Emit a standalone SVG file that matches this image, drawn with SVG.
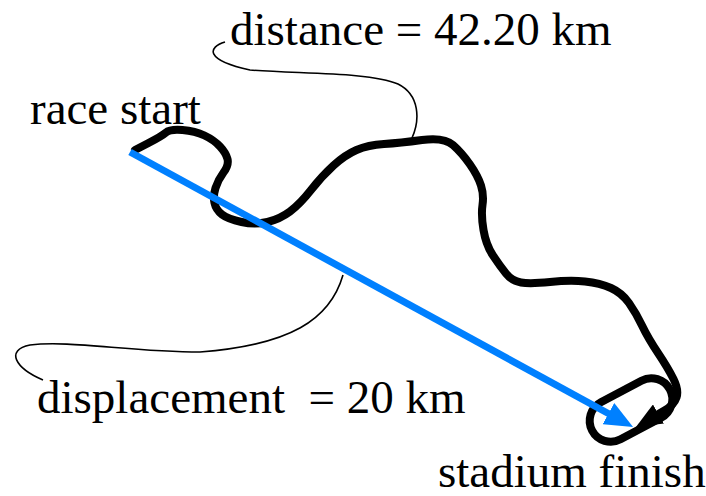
<svg xmlns="http://www.w3.org/2000/svg" width="706" height="496" viewBox="0 0 706 496">
<style>
.lbl{font-family:"Liberation Serif","Times New Roman",serif;font-size:47px;fill:#000}
.route{fill:none;stroke:#000;stroke-width:8;stroke-linejoin:round;stroke-linecap:round}
.leader{fill:none;stroke:#000;stroke-width:1.6}
.disp{fill:none;stroke:#0080ff;stroke-width:7}
</style>
<defs>
<marker id="ahBlack" markerUnits="userSpaceOnUse" markerWidth="30" markerHeight="22" viewBox="0 0 30 22" refX="4" refY="11" orient="auto">
<path d="M0,0 L26,11 L0,22 Z" fill="#000"/>
</marker>
<marker id="ahBlue" markerUnits="userSpaceOnUse" markerWidth="30" markerHeight="24" viewBox="0 0 30 24" refX="4" refY="12" orient="auto">
<path d="M0,0 L28,12 L0,24 Z" fill="#0080ff"/>
</marker>
</defs>
<g id="route">
<path class="route" d="M135,150 L148.5,143 Q162,136 166,132.5 Q170,129 182.5,130 Q195,131 204.5,135.5 Q214,140 220,146.5 Q226,153 227.5,159 Q229,165 223.5,172.5 Q218,180 215.5,188 Q213,196 214.5,203 Q216,210 222,214.5 Q228,219 241.5,222 Q255,225 267.5,222 Q280,219 290,211.5 Q300,204 311,190 Q322,176 333.5,165.5 Q345,155 356.5,150 Q368,145 384,144 Q400,143 422,140 Q444,137 453,145 Q462,153 470,164.5 Q478,176 481,185.5 Q484,195 482.5,205 Q481,215 483.5,230 Q486,245 493,255.5 Q500,266 506,273.5 Q512,281 521,282.5 Q530,284 550,282 Q570,280 585,281.5 Q600,283 611,288 Q622,293 629,303 Q636,313 642,325.5 Q648,338 658,353 Q668,368 673.5,379 Q679,390 676.5,397.5 Q674,405 664.5,410.5 L655,416" marker-end="url(#ahBlack)"/>
<rect class="route" x="-44" y="-21" width="88" height="42" rx="21" transform="translate(631 410) rotate(-28)"/>
</g>
<g id="connectors">
<path class="leader" d="M225,42 C208,47 204,60 250,70 C300,74 370,72 398,84 C420,95 420,120 412,138"/>
<path class="leader" d="M343,275 C330,320 290,345 200,352 C130,352 70,340 30,345 C5,350 15,368 43,380"/>
<path class="disp" d="M130,152 L612,415.5" marker-end="url(#ahBlue)"/>
</g>
<g id="race-start"><text class="lbl" x="30" y="124">race start</text></g>
<g id="distance"><text class="lbl" x="230" y="45">distance = 42.20 km</text></g>
<g id="displacement"><text class="lbl" x="37" y="413" xml:space="preserve">displacement  = 20 km</text></g>
<g id="stadium-finish"><text class="lbl" x="438" y="487">stadium finish</text></g>
</svg>
